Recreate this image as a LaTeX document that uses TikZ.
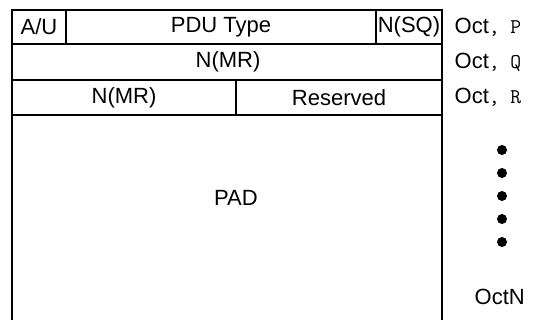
\documentclass[tikz,border=0pt]{standalone}
\usepackage{fontspec}
\setmainfont{Liberation Sans}
\tikzset{
  field/.style={inner sep=0pt,font=\fontsize{22}{26}\selectfont},
  octlabel/.style={inner sep=0pt,anchor=west,font=\fontsize{22}{26}\selectfont},
  octdot/.style={circle,fill=black,inner sep=0pt,minimum size=10pt}
}
\newcommand{\octsuffix}[1]{{\ttfamily\fontsize{21}{24}\selectfont, #1}}
\begin{document}
\begin{tikzpicture}[x=1pt,y=-1pt,line width=1.3pt]
  \useasboundingbox (0,0) rectangle (544,320);

  % frame and rows
  \draw (12,321) -- (12,10) -- (442,10) -- (442,321);
  \draw (12,44) -- (442,44);
  \draw (12,80) -- (442,80);
  \draw (12,115) -- (442,115);
  \draw (66,10) -- (66,44);
  \draw (376,10) -- (376,44);
  \draw (236,80) -- (236,115);

  \begin{scope}[every node/.style={field}]
    \node (au)   at (39,27)    {A/U};
    \node (pdu)  at (221,27)   {PDU Type};
    \node (nsq)  at (409,27)   {N(SQ)};
    \node (nmr)  at (228,62)   {N(MR)};
    \node (nmr2) at (124,97.5) {N(MR)};
    \node (res)  at (339,97.5) {Reserved};
    \node (pad)  at (236,198)  {PAD};
  \end{scope}

  \begin{scope}[every node/.style={octlabel}]
    \node (octp) at (454,27)   {Oct\octsuffix{P}};
    \node (octq) at (454,62)   {Oct\octsuffix{Q}};
    \node (octr) at (454,97.5) {Oct\octsuffix{R}};
    \node (octn) at (474,297)  {OctN};
  \end{scope}

  \foreach \i/\y in {1/150,2/173,3/196,4/219,5/242}
    \node[octdot] (dot\i) at (502,\y) {};

\end{tikzpicture}
\end{document}
